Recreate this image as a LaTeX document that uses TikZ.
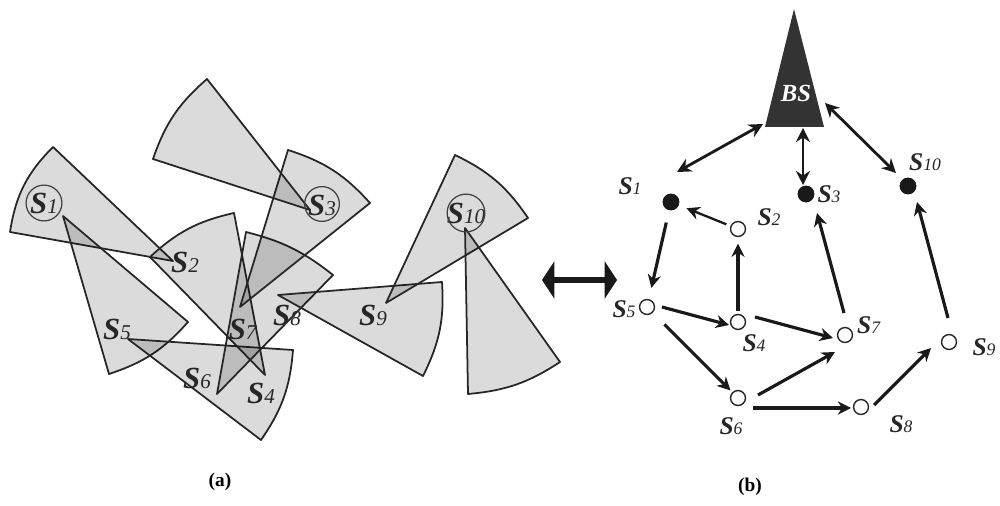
\documentclass[tikz,border=0pt]{standalone}
\usepackage{fontspec}
\usepackage{relsize}
\setmainfont{Liberation Serif}
\usetikzlibrary{arrows.meta}

\newcommand{\sname}[1]{\textbf{\textit{S}}{\relscale{0.66}\textit{#1}}}

\tikzset{
    wedge/.style={draw=black!85, line width=1pt, fill=black, fill opacity=0.14, draw opacity=1, line join=round},
    ring/.style={draw=black!75, line width=0.7pt, circle, inner sep=0pt},
    biglabel/.style={font=\fontsize{17.5}{17.5}\selectfont, text=black!85, inner sep=0pt},
    smalllabel/.style={font=\fontsize{14.5}{14.5}\selectfont, text=black!85, inner sep=0pt},
    opennode/.style={circle, draw=black!85, line width=0.8pt, fill=white, minimum size=8.5pt, inner sep=0pt},
    fullnode/.style={circle, fill=black!90, minimum size=9.6pt, inner sep=0pt},
    link/.style={-{Stealth[length=7.5pt,width=7.5pt]}, line width=1.8pt, black!90},
    bilink/.style={{Stealth[length=8pt,width=8pt]}-{Stealth[length=8pt,width=8pt]}, line width=1.6pt, black!90}
}
\begin{document}
\begin{tikzpicture}[x=0.02cm, y=-0.02cm]
    \useasboundingbox (0,0) rectangle (1000,506);

    % (a) sensing wedges
    \draw[wedge] (173,261) -- (10,232) to[bend left=18] (53,147) -- cycle;
    \draw[wedge] (63,216) -- (188,322) to[bend left=15] (109,374) -- cycle;
    \draw[wedge] (128,339) -- (293,350) to[bend left=15] (261,440) -- cycle;
    \draw[wedge] (265,375) -- (150,257) to[bend left=15] (234,213) -- cycle;
    \draw[wedge] (217,394) -- (246,232) to[bend left=12] (333,275) -- cycle;
    \draw[wedge] (240,307) -- (288,150) to[bend left=15] (370,203) -- cycle;
    \draw[wedge] (310,210) -- (153,159) to[bend left=15] (207,79) -- cycle;
    \draw[wedge] (278,295) -- (442,282) to[bend left=15] (423,376) -- cycle;
    \draw[wedge] (386,303) -- (455,155) to[bend left=15] (528,218) -- cycle;
    \draw[wedge] (465,228) -- (560,362) to[bend left=14] (468,394) -- cycle;

    \node[biglabel] (a1) at (44,203) {\sname{1}};
    \node[biglabel] (a2) at (185,262) {\sname{2}};
    \node[biglabel] (a3) at (322,205) {\sname{3}};
    \node[biglabel] (a4) at (261,393) {\sname{4}};
    \node[biglabel] (a5) at (117,329) {\sname{5}};
    \node[biglabel] (a6) at (197,378) {\sname{6}};
    \node[biglabel] (a7) at (243,329) {\sname{7}};
    \node[biglabel] (a8) at (287,315) {\sname{8}};
    \node[biglabel] (a9) at (373,315) {\sname{9}};
    \node[biglabel] (a10) at (466,213) {\sname{10}};

    \node[ring, minimum size=20.4pt] (r1) at (44,203) {};
    \node[ring, minimum size=19.8pt] (r3) at (322,204) {};
    \node[ring, minimum size=21.5pt] (r10) at (466,213) {};

    \node[font=\fontsize{11}{11}\selectfont\bfseries] (capa) at (220,482) {(a)};

    % double arrow between the two parts
    \coordinate (dl) at (542,280);
    \coordinate (dr) at (617,280);
    \draw[{Triangle[length=7pt,width=21pt]}-{Triangle[length=7pt,width=21pt]}, line width=3.4pt, black!90] (dl) -- (dr);

    % (b) base station
    \fill[black!80] (794,9) -- (765,127) -- (824,127) -- cycle;
    \node[font=\fontsize{14}{14}\selectfont\bfseries\itshape, text=white, inner sep=0pt] (bs) at (796,93) {BS};

    % (b) nodes
    \node[fullnode] (n1) at (671,202) {};
    \node[opennode] (n2) at (738,229) {};
    \node[fullnode] (n3) at (806,194) {};
    \node[opennode] (n4) at (738,322) {};
    \node[opennode] (n5) at (647,307) {};
    \node[opennode] (n6) at (738,398) {};
    \node[opennode] (n7) at (845,335) {};
    \node[opennode] (n8) at (861,407) {};
    \node[opennode] (n9) at (949,342) {};
    \node[fullnode] (n10) at (908,186) {};

    \node[smalllabel] (b1) at (630,186) {\sname{1}};
    \node[smalllabel] (b2) at (769,217) {\sname{2}};
    \node[smalllabel] (b3) at (829,194) {\sname{3}};
    \node[smalllabel] (b4) at (754,343) {\sname{4}};
    \node[smalllabel] (b5) at (624,309) {\sname{5}};
    \node[smalllabel] (b6) at (731,426) {\sname{6}};
    \node[smalllabel] (b7) at (869,325) {\sname{7}};
    \node[smalllabel] (b8) at (901,424) {\sname{8}};
    \node[smalllabel] (b9) at (984,347) {\sname{9}};
    \node[smalllabel] (b10) at (925,162) {\sname{10}};

    \node[font=\fontsize{11}{11}\selectfont\bfseries] (capb) at (750,487) {(b)};

    % free ends of the links
    \coordinate (bs1) at (763,124);
    \coordinate (t1) at (677,172);
    \coordinate (bs3) at (803,128);
    \coordinate (t3) at (803,185);
    \coordinate (bs10) at (825,103);
    \coordinate (t10) at (896,173);
    \coordinate (f45) at (662,307);
    \coordinate (h45) at (729,325);
    \coordinate (f47) at (755,317);
    \coordinate (h47) at (833,338);
    \coordinate (f67) at (758,395);
    \coordinate (h67) at (835,352);
    \coordinate (f68) at (753,408);
    \coordinate (h68) at (851,408);
    \coordinate (f89) at (874,405);
    \coordinate (h89) at (931,348);
    \coordinate (f73) at (844,313);
    \coordinate (h73) at (817,213);
    \coordinate (f910) at (948,318);
    \coordinate (h910) at (917,202);

    \draw[bilink] (bs1) -- (t1);
    \draw[bilink, line width=1.2pt] (bs3) -- (t3);
    \draw[bilink] (bs10) -- (t10);

    \draw[link, shorten <=7pt, shorten >=6.5pt] (n1) -- (n5);
    \draw[link, line width=1.3pt, shorten <=2.5pt, shorten >=4.5pt] (n2) -- (n1);
    \draw[link, shorten <=1.4pt, shorten >=3.7pt] (n4) -- (n2);
    \draw[link] (f45) -- (h45);
    \draw[link] (f47) -- (h47);
    \draw[link, shorten <=9.4pt, shorten >=1.4pt] (n5) -- (n6);
    \draw[link] (f67) -- (h67);
    \draw[link] (f68) -- (h68);
    \draw[link] (f89) -- (h89);
    \draw[link] (f73) -- (h73);
    \draw[link] (f910) -- (h910);
\end{tikzpicture}
\end{document}
